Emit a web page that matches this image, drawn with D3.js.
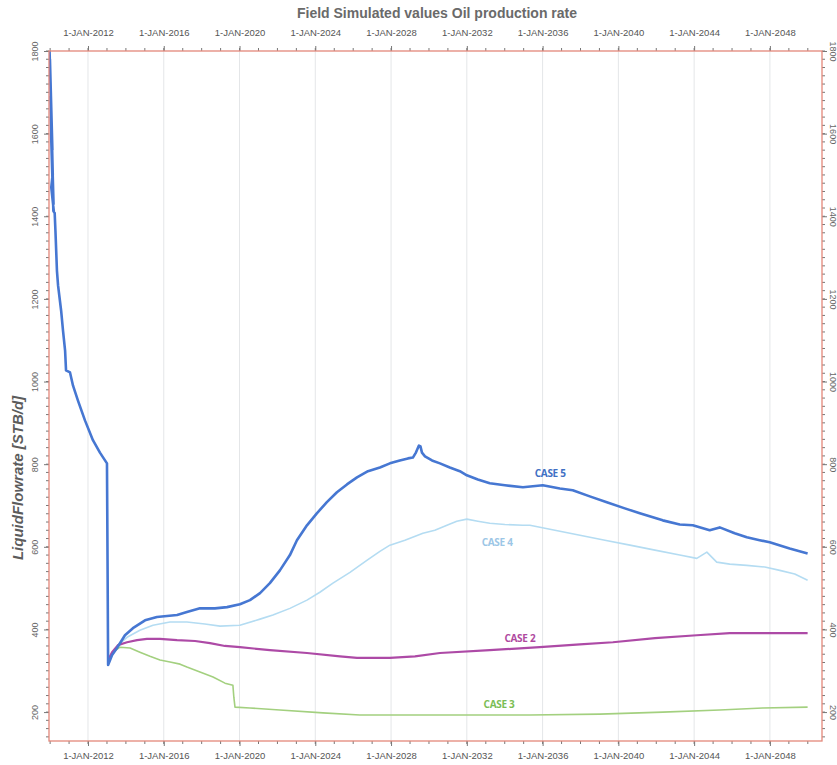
<!DOCTYPE html>
<html>
<head>
<meta charset="utf-8">
<script src="https://cdn.jsdelivr.net/npm/d3@7"></script>
<style>
  body { margin: 0; background: #fff; }
  text { font-family: "Liberation Sans", Arial, sans-serif; }
</style>
</head>
<body>
<div id="wrapper"></div>
<script>
// data: [decimal year, STB/d]
const case5 = [
  [2009.97, 1800], [2010.12, 1560], [2009.99, 1780], [2010.14, 1500], [2010.01, 1740],
  [2010.16, 1450], [2010.02, 1690], [2010.18, 1430], [2010.04, 1640], [2010.17, 1413],
  [2010.05, 1600], [2010.13, 1500], [2010.06, 1470], [2010.20, 1410],
  [2010.24, 1408], [2010.28, 1365],
  [2010.36, 1268], [2010.42, 1232], [2010.58, 1172], [2010.68, 1123], [2010.79, 1075],
  [2010.84, 1027], [2011.05, 1022], [2011.21, 990], [2011.47, 954], [2011.84, 906],
  [2012.26, 858], [2012.63, 828], [2013.00, 802], [2013.03, 567], [2013.06, 314],
  [2013.27, 338], [2013.53, 355], [2013.95, 386], [2014.37, 403], [2015.01, 422],
  [2015.64, 430], [2016.70, 435], [2017.22, 442], [2017.91, 451], [2018.70, 451],
  [2019.34, 454], [2020.02, 461], [2020.55, 471], [2021.08, 488], [2021.60, 512],
  [2022.13, 543], [2022.66, 580], [2023.03, 616], [2023.56, 652], [2024.08, 681],
  [2024.61, 708], [2025.14, 732], [2025.67, 751], [2026.20, 768], [2026.78, 783],
  [2027.41, 792], [2027.94, 802], [2028.46, 809], [2028.89, 814], [2029.15, 816],
  [2029.31, 828], [2029.47, 845], [2029.55, 843], [2029.63, 828], [2029.79, 819],
  [2030.16, 809], [2030.58, 802], [2031.10, 792], [2031.63, 783], [2032.00, 773],
  [2032.58, 763], [2033.21, 754], [2034.01, 749], [2034.96, 744], [2036.01, 749],
  [2036.91, 741], [2037.59, 737], [2038.49, 722], [2039.39, 708], [2040.34, 693],
  [2041.13, 681], [2042.34, 664], [2043.24, 654], [2043.93, 652], [2044.82, 640],
  [2045.35, 647], [2046.14, 633], [2046.78, 623], [2047.46, 616], [2047.99, 611],
  [2049.04, 596], [2049.99, 584]
]

const case4 = [
  [2013.06, 319], [2013.16, 333], [2013.58, 362], [2014.06, 381], [2014.74, 398],
  [2015.43, 410], [2016.33, 418], [2017.22, 418], [2018.17, 413], [2018.97, 408],
  [2020.02, 410], [2021.08, 425], [2021.76, 435], [2022.66, 451], [2023.56, 471],
  [2024.24, 490], [2024.93, 512], [2025.83, 538], [2026.72, 567], [2027.41, 589],
  [2027.94, 604], [2028.73, 616], [2029.68, 633], [2030.31, 640], [2030.95, 652],
  [2031.47, 662], [2032.00, 667], [2032.58, 662], [2033.21, 657], [2034.01, 654],
  [2034.96, 652], [2035.33, 652], [2036.65, 640], [2037.97, 628], [2039.29, 616],
  [2040.61, 604], [2041.93, 592], [2043.24, 580], [2044.14, 572], [2044.67, 587],
  [2044.93, 575], [2045.19, 563], [2045.88, 558], [2046.78, 555], [2047.73, 551],
  [2048.52, 543], [2049.31, 534], [2049.99, 519]
]

const case2 = [
  [2013.06, 326], [2013.27, 345], [2013.58, 362], [2014.06, 369], [2014.59, 374],
  [2015.11, 377], [2015.80, 377], [2016.70, 374], [2017.65, 372], [2018.44, 367],
  [2019.23, 360], [2020.02, 357], [2021.60, 350], [2023.56, 343], [2025.30, 335],
  [2026.20, 331], [2027.94, 331], [2029.26, 335], [2030.58, 343], [2033.21, 350],
  [2035.85, 357], [2037.97, 364], [2039.71, 369], [2041.93, 379], [2044.14, 386],
  [2045.88, 391], [2047.62, 391], [2049.99, 391]
]

const case3 = [
  [2013.06, 321], [2013.32, 345], [2013.69, 357], [2014.22, 355], [2014.74, 345],
  [2015.27, 335], [2015.80, 326], [2016.33, 321], [2016.86, 316], [2017.22, 309],
  [2017.91, 297], [2018.60, 285], [2019.23, 270], [2019.65, 265], [2019.70, 236],
  [2019.76, 212], [2020.55, 210], [2022.13, 205], [2024.40, 198], [2026.35, 193],
  [2027.94, 193], [2031.10, 193], [2035.33, 193], [2039.02, 195], [2042.34, 200],
  [2045.35, 205], [2047.62, 210], [2049.99, 212]
]

const seriesNames = ["CASE 5", "CASE 4", "CASE 2", "CASE 3"]
const seriesValues = [case5, case4, case2, case3]
// label baselines: [decimal year, value]
const labelAnchors = [[2036.4, 768], [2033.6, 601], [2034.8, 369], [2033.7, 210]]

const yTickValues = [200, 400, 600, 800, 1000, 1200, 1400, 1600, 1800]
const xRange = [2009.94, 2050.75]
const yRange = [130, 1800]

const titleText = "Field Simulated values Oil production rate"
const yLabelText = "LiquidFlowrate [STB/d]"

function drawChart() {
  const toDate = y => {
    const yr = Math.floor(y)
    const s = new Date(yr, 0, 1), e = new Date(yr + 1, 0, 1)
    return new Date(+s + (y - yr) * (e - s))
  }

  let dimensions = {
    width: 837,
    height: 765,
    margins: { top: 51, right: 15, bottom: 24, left: 49 },
  }
  dimensions.boundedWidth = dimensions.width - dimensions.margins.left - dimensions.margins.right
  dimensions.boundedHeight = dimensions.height - dimensions.margins.top - dimensions.margins.bottom

  const colors = ["#4677d2", "#b4dcf2", "#ad4aa6", "#a3d07f"]
  const widths = [2.6, 1.6, 2.2, 1.6]
  const labelColors = ["#3f70c4", "#9cc6e6", "#b04a9f", "#7bbd55"]

  const wrapper = d3.select("#wrapper").append("svg")
    .attr("width", dimensions.width)
    .attr("height", dimensions.height)

  const bounds = wrapper.append("g")
    .attr("transform", `translate(${dimensions.margins.left},${dimensions.margins.top})`)

  const xScale = d3.scaleTime()
    .domain(xRange.map(toDate))
    .range([0, dimensions.boundedWidth])

  const yScale = d3.scaleLinear()
    .domain(yRange)
    .range([dimensions.boundedHeight, 0])

  const majorYears = d3.timeYear.every(4).range(toDate(xRange[0]), toDate(xRange[1]))
  const minorYears = d3.timeYear.range(toDate(xRange[0]), toDate(xRange[1]))
  const minorY = d3.range(140, 1801, 20)

  // vertical grid
  bounds.append("g").selectAll("line")
    .data(majorYears)
    .join("line")
    .attr("x1", d => xScale(d)).attr("x2", d => xScale(d))
    .attr("y1", 0).attr("y2", dimensions.boundedHeight)
    .attr("stroke", "#e4e6e8")
    .attr("stroke-width", 1)

  bounds.append("defs").append("clipPath").attr("id", "clip")
    .append("rect")
    .attr("width", dimensions.boundedWidth)
    .attr("height", dimensions.boundedHeight)

  // lines, drawn bottom-most series first
  const lineGenerator = d3.line()
    .x(d => xScale(toDate(d[0])))
    .y(d => yScale(d[1]))

  const order = [3, 1, 2, 0]
  order.forEach(i => {
    bounds.append("path")
      .attr("clip-path", "url(#clip)")
      .attr("d", lineGenerator(seriesValues[i]))
      .attr("fill", "none")
      .attr("stroke", colors[i])
      .attr("stroke-width", widths[i])
      .attr("stroke-linejoin", "round")
  })

  // case labels
  seriesNames.forEach((name, i) => {
    bounds.append("text")
      .attr("x", xScale(toDate(labelAnchors[i][0])))
      .attr("y", yScale(labelAnchors[i][1]))
      .attr("text-anchor", "middle")
      .attr("fill", labelColors[i])
      .style("font-family", "'Open Sans', sans-serif")
      .style("font-size", "10px")
      .style("font-weight", "bold")
      .style("letter-spacing", "-0.3px")
      .text(name)
  })

  const tickColor = "#777"
  const axisColor = "#e3877a"
  const fmt = d => `1-JAN-${d.getFullYear()}`

  // bottom and top axes
  const xAxisBottom = d3.axisBottom(xScale).tickValues(majorYears).tickFormat(fmt).tickSize(5)
  const xAxisTop = d3.axisTop(xScale).tickValues(majorYears).tickFormat(fmt).tickSize(5)

  const xb = bounds.append("g")
    .attr("transform", `translate(0,${dimensions.boundedHeight})`)
    .call(xAxisBottom)
  const xt = bounds.append("g").call(xAxisTop)

  ;[[xb, 1], [xt, -1]].forEach(([g, dir]) => {
    g.selectAll(".tick line").attr("stroke", tickColor)
    g.selectAll(".tick text").attr("fill", "#555").style("font-size", "9.5px")
      .attr("dy", dir > 0 ? "1.05em" : "-0.75em")
    g.append("g").selectAll("line")
      .data(minorYears)
      .join("line")
      .attr("x1", d => xScale(d)).attr("x2", d => xScale(d))
      .attr("y1", 0).attr("y2", 3 * dir)
      .attr("stroke", tickColor)
  })

  // left and right axes
  const yAxisLeft = d3.axisLeft(yScale).tickValues(yTickValues).tickSize(5).tickFormat(d3.format("d"))
  const yAxisRight = d3.axisRight(yScale).tickValues(yTickValues).tickSize(5).tickFormat(d3.format("d"))

  const yl = bounds.append("g").call(yAxisLeft)
  const yr = bounds.append("g")
    .attr("transform", `translate(${dimensions.boundedWidth},0)`)
    .call(yAxisRight)

  ;[[yl, -1, 11], [yr, 1, 8]].forEach(([g, dir, off]) => {
    g.selectAll(".tick line").attr("stroke", tickColor)
    g.selectAll(".tick text")
      .attr("fill", "#666")
      .style("font-size", "9px")
      .attr("x", 0).attr("dy", 0)
      .attr("text-anchor", "middle")
      .attr("transform", `translate(${dir * off},0) rotate(${dir * 90})`)
    g.append("g").selectAll("line")
      .data(minorY)
      .join("line")
      .attr("x1", 0).attr("x2", 3 * dir)
      .attr("y1", d => yScale(d)).attr("y2", d => yScale(d))
      .attr("stroke", tickColor)
  })

  ;[xb, xt, yl, yr].forEach(g => g.select(".domain").remove())

  // frame in salmon
  bounds.append("rect")
    .attr("width", dimensions.boundedWidth)
    .attr("height", dimensions.boundedHeight)
    .attr("fill", "none")
    .attr("stroke", axisColor)
    .attr("stroke-width", 1.3)

  // titles
  wrapper.append("text")
    .attr("x", 437)
    .attr("y", 18)
    .attr("text-anchor", "middle")
    .attr("fill", "#6a6a6a")
    .style("font-size", "14px")
    .style("font-weight", "bold")
    .text(titleText)

  wrapper.append("text")
    .attr("transform", `translate(23,478) rotate(-90)`)
    .attr("text-anchor", "middle")
    .attr("fill", "#5c5c5c")
    .style("font-size", "15px")
    .style("font-style", "italic")
    .style("font-weight", "bold")
    .text(yLabelText)
}
drawChart()
</script>
</body>
</html>
